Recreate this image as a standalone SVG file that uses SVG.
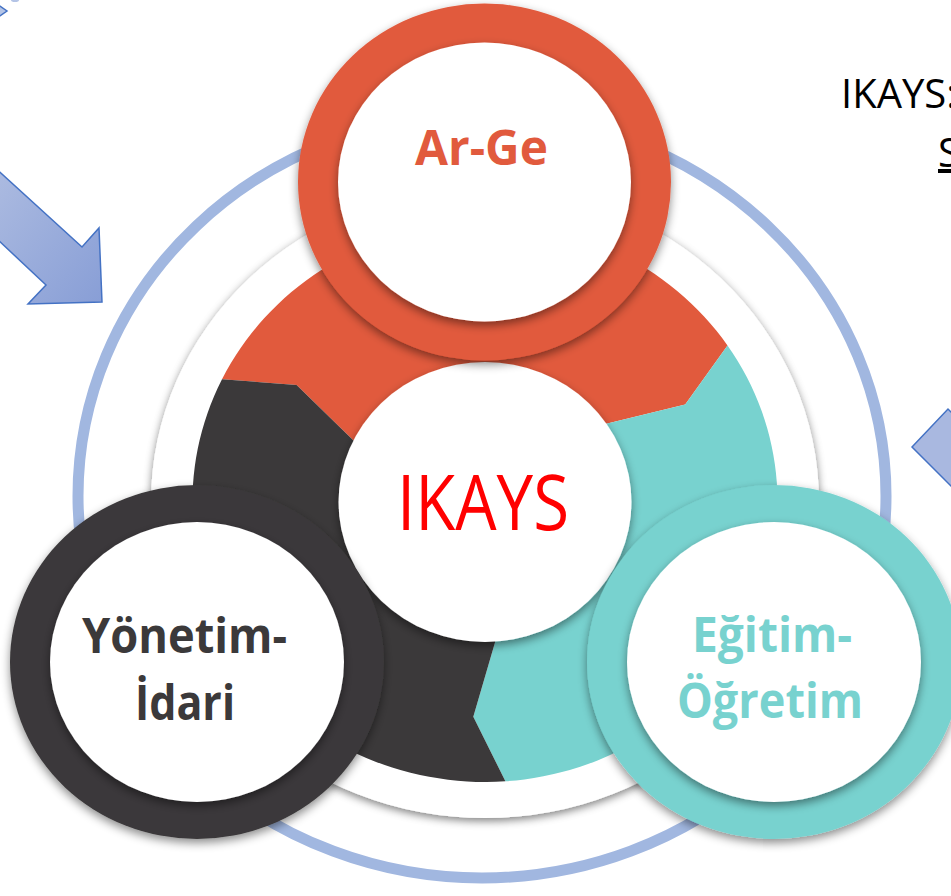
<svg xmlns="http://www.w3.org/2000/svg" width="951" height="896" viewBox="0 0 951 896">
<defs>
<style>
.lbl{font-family:"Open Sans","Noto Sans","Liberation Sans",sans-serif;font-weight:700;font-size:48px}
.plain{font-family:"Open Sans","Noto Sans","Liberation Sans",sans-serif;font-weight:400}
.red{fill:#E15A3D}.teal{fill:#78D2CF}.dark{fill:#3B393A}.white{fill:#FFFFFF}
.arrow{stroke:#4472C4;stroke-width:1.5;stroke-linejoin:miter}
</style>
<filter id="sh" x="-20%" y="-20%" width="140%" height="140%">
<feGaussianBlur in="SourceAlpha" stdDeviation="5"/>
<feOffset dy="4" result="b"/>
<feFlood flood-color="#000" flood-opacity="0.45"/>
<feComposite in2="b" operator="in"/>
<feMerge><feMergeNode/><feMergeNode in="SourceGraphic"/></feMerge>
</filter>
<filter id="shw" x="-20%" y="-20%" width="140%" height="140%">
<feGaussianBlur in="SourceAlpha" stdDeviation="4"/>
<feOffset dy="3" result="b"/>
<feFlood flood-color="#000" flood-opacity="0.5"/>
<feComposite in2="b" operator="in"/>
<feMerge><feMergeNode/><feMergeNode in="SourceGraphic"/></feMerge>
</filter>
<linearGradient id="ag" x1="0" y1="0" x2="1" y2="1">
<stop offset="0" stop-color="#B1BFE2"/>
<stop offset="1" stop-color="#889ED6"/>
</linearGradient>
</defs>

<g id="background-arrows">
<path class="arrow" fill="#B4C4E6" d="M-3,4 L7,11 L-3,18 Z"/>
<ellipse cx="15" cy="0" rx="4" ry="2" fill="#B4C4E6"/>
<polygon class="arrow" fill="url(#ag)" points="-20,154 82,247 99,228 102,302 28,304 46,285 -20,223"/>
<polygon class="arrow" fill="#A9B8E0" points="912,447 948,409 956,417 956,491"/>
</g>

<g id="outer-ring">
<ellipse cx="482" cy="496" rx="404" ry="382" fill="none" stroke="#A1B7E0" stroke-width="11"/>
</g>

<g id="white-ring">
<ellipse cx="485" cy="502" rx="334" ry="316" fill="#FFFFFF" filter="url(#shw)"/>
</g>

<g id="segments">
<path class="red" d="M485,502 L353.5,440.6 L296.6,384.9 L222,379.3 A292.6,280 0 0 1 727.5,345.4 L685.2,404.4 L606.3,423.7 Z"/>
<path class="teal" d="M485,502 L606.3,423.7 L685.2,404.4 L727.5,345.4 A292.6,280 0 0 1 505.4,781.3 L473.3,716.7 L495.2,641.7 Z"/>
<path class="dark" d="M485,502 L495.2,641.7 L473.3,716.7 L505.4,781.3 A292.6,280 0 0 1 222,379.3 L296.6,384.9 L353.5,440.6 Z"/>
</g>

<g id="node-ikays">
<ellipse cx="485" cy="502" rx="146.5" ry="140" fill="#FFFFFF" filter="url(#sh)"/>
<text class="plain" x="397" y="530" font-size="76" fill="#FF0000" textLength="172" lengthAdjust="spacingAndGlyphs">IKAYS</text>
</g>

<g id="node-arge">
<ellipse class="red" cx="484.5" cy="182" rx="186.5" ry="178.5" filter="url(#sh)"/>
<ellipse class="white" cx="484.5" cy="182" rx="146.5" ry="139.5" filter="url(#sh)"/>
<text class="lbl red" x="415" y="165" textLength="133" lengthAdjust="spacingAndGlyphs">Ar-Ge</text>
</g>

<g id="node-yonetim">
<ellipse class="dark" cx="197" cy="662" rx="187" ry="177" filter="url(#sh)"/>
<ellipse class="white" cx="197" cy="662" rx="147" ry="140" filter="url(#sh)"/>
<text class="lbl dark" x="82" y="653" textLength="205" lengthAdjust="spacingAndGlyphs">Yönetim-</text>
<text class="lbl dark" x="135" y="720" textLength="100" lengthAdjust="spacingAndGlyphs">İdari</text>
</g>

<g id="node-egitim">
<ellipse class="teal" cx="774" cy="662" rx="187" ry="177" filter="url(#sh)"/>
<ellipse class="white" cx="774" cy="662" rx="147" ry="140" filter="url(#sh)"/>
<text class="lbl teal" x="692" y="652" textLength="160" lengthAdjust="spacingAndGlyphs">Eğitim-</text>
<text class="lbl teal" x="677" y="718" textLength="186" lengthAdjust="spacingAndGlyphs">Öğretim</text>
</g>

<g id="side-text">
<text class="plain" x="841" y="108" font-size="40" fill="#000000">IKAYS:</text>
<text class="plain" x="938" y="167" font-size="40" fill="#000000" text-decoration="underline">S</text>
</g>
</svg>
